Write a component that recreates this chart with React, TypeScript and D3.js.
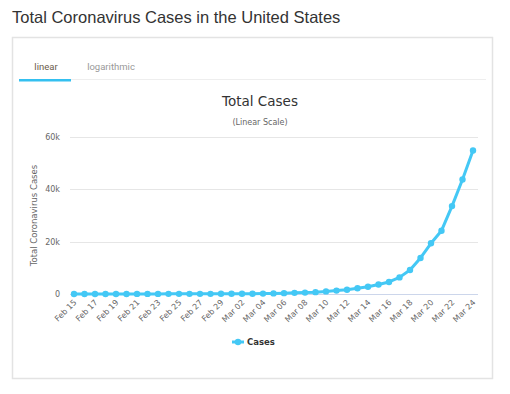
import React, { useEffect, useRef } from "react";
import * as d3 from "d3";

// dates on the x axis (2020)
const dates = [
  "Feb 15", "Feb 16", "Feb 17", "Feb 18", "Feb 19", "Feb 20", "Feb 21", "Feb 22",
  "Feb 23", "Feb 24", "Feb 25", "Feb 26", "Feb 27", "Feb 28", "Feb 29",
  "Mar 01", "Mar 02", "Mar 03", "Mar 04", "Mar 05", "Mar 06", "Mar 07", "Mar 08",
  "Mar 09", "Mar 10", "Mar 11", "Mar 12", "Mar 13", "Mar 14", "Mar 15", "Mar 16",
  "Mar 17", "Mar 18", "Mar 19", "Mar 20", "Mar 21", "Mar 22", "Mar 23", "Mar 24",
];

// total cases for each date
const cases = [
  15, 15, 15, 15, 15, 15, 35, 35,
  35, 53, 57, 60, 60, 62, 68,
  75, 100, 124, 158, 221, 319, 435, 541,
  704, 994, 1301, 1630, 2183, 2770, 3613, 4596,
  6344, 9197, 13779, 19367, 24192, 33592, 43781, 54856,
];

const yTicks = [0, 20000, 40000, 60000];
const yTickLabels = ["0", "20k", "40k", "60k"];

const W = 510;
const H = 394;
const chartFont = "'DejaVu Sans', sans-serif";

export default function App() {
  const ref = useRef<SVGSVGElement | null>(null);

  useEffect(() => {
    const svg = d3.select(ref.current);
    svg.selectAll("*").remove();

    // page title
    svg.append("text")
      .attr("x", 12).attr("y", 23)
      .attr("font-family", "'Liberation Sans', Arial, sans-serif")
      .attr("font-size", 16.5).attr("fill", "#333")
      .text("Total Coronavirus Cases in the United States");

    // card
    svg.append("rect")
      .attr("x", 12.5).attr("y", 37.5).attr("width", 480).attr("height", 341)
      .attr("fill", "#fff").attr("stroke", "#e3e3e3").attr("stroke-width", 1.5);

    // tabs
    svg.append("line")
      .attr("x1", 19).attr("x2", 486).attr("y1", 79.5).attr("y2", 79.5)
      .attr("stroke", "#eee");
    svg.append("rect")
      .attr("x", 19).attr("y", 79).attr("width", 52).attr("height", 2.5)
      .attr("fill", "#34c0f0");
    svg.append("text")
      .attr("x", 46).attr("y", 69.5).attr("text-anchor", "middle")
      .attr("font-family", "Roboto, sans-serif").attr("font-size", 9.5)
      .attr("fill", "#6b5d4b").text("linear");
    svg.append("text")
      .attr("x", 111).attr("y", 69.5).attr("text-anchor", "middle")
      .attr("font-family", "Roboto, sans-serif").attr("font-size", 9.5)
      .attr("fill", "#999").text("logarithmic");

    // chart titles
    svg.append("text")
      .attr("x", 260).attr("y", 106).attr("text-anchor", "middle")
      .attr("font-family", chartFont).attr("font-size", 13.5).attr("fill", "#333")
      .text("Total Cases");
    svg.append("text")
      .attr("x", 260).attr("y", 125).attr("text-anchor", "middle")
      .attr("font-family", chartFont).attr("font-size", 8).attr("fill", "#666")
      .text("(Linear Scale)");

    const x = d3.scalePoint<string>().domain(dates).range([74, 473]);
    const y = d3.scaleLinear().domain([0, 60000]).range([294, 137]);

    // grid lines
    svg.append("g").selectAll("line")
      .data(yTicks.slice(1))
      .join("line")
      .attr("x1", 70).attr("x2", 478)
      .attr("y1", (d) => Math.round(y(d)) + 0.5).attr("y2", (d) => Math.round(y(d)) + 0.5)
      .attr("stroke", "#e6e6e6");

    // x axis line
    svg.append("line")
      .attr("x1", 70).attr("x2", 478)
      .attr("y1", Math.round(y(0)) + 0.5).attr("y2", Math.round(y(0)) + 0.5)
      .attr("stroke", "#ccd6eb");

    // y tick labels
    svg.append("g").selectAll("text")
      .data(yTicks)
      .join("text")
      .attr("x", 60).attr("y", (d) => y(d) + 3)
      .attr("text-anchor", "end")
      .attr("font-family", chartFont).attr("font-size", 8).attr("fill", "#666")
      .text((d, i) => yTickLabels[i]);

    // y axis title
    svg.append("text")
      .attr("transform", `translate(37,${(y(0) + y(60000)) / 2}) rotate(-90)`)
      .attr("text-anchor", "middle")
      .attr("font-family", chartFont).attr("font-size", 8.5).attr("fill", "#666")
      .text("Total Coronavirus Cases");

    // x tick labels, every other day
    svg.append("g").selectAll("text")
      .data(dates.filter((d, i) => i % 2 === 0))
      .join("text")
      .attr("transform", (d) => `translate(${(x(d) as number) + 3},${303}) rotate(-45)`)
      .attr("text-anchor", "end")
      .attr("font-family", chartFont).attr("font-size", 8).attr("fill", "#666")
      .text((d) => d);

    // line + markers
    const pts = dates.map((d, i) => [x(d) as number, y(cases[i])] as [number, number]);
    svg.append("path")
      .attr("d", d3.line()(pts))
      .attr("fill", "none").attr("stroke", "#44c8f5")
      .attr("stroke-width", 3).attr("stroke-linejoin", "round");
    svg.append("g").selectAll("circle")
      .data(pts)
      .join("circle")
      .attr("cx", (d) => d[0]).attr("cy", (d) => d[1]).attr("r", 3.2)
      .attr("fill", "#44c8f5");

    // legend
    svg.append("line")
      .attr("x1", 232).attr("x2", 244).attr("y1", 342).attr("y2", 342)
      .attr("stroke", "#44c8f5").attr("stroke-width", 3);
    svg.append("circle").attr("cx", 238).attr("cy", 342).attr("r", 3.2).attr("fill", "#44c8f5");
    svg.append("text")
      .attr("x", 247).attr("y", 345)
      .attr("font-family", chartFont).attr("font-size", 8.5).attr("font-weight", "bold")
      .attr("fill", "#333").text("Cases");
  }, []);

  return (
    <svg
      ref={ref}
      width={W}
      height={H}
      style={{ position: "absolute", left: 0, top: 0, background: "#fff" }}
    />
  );
}
